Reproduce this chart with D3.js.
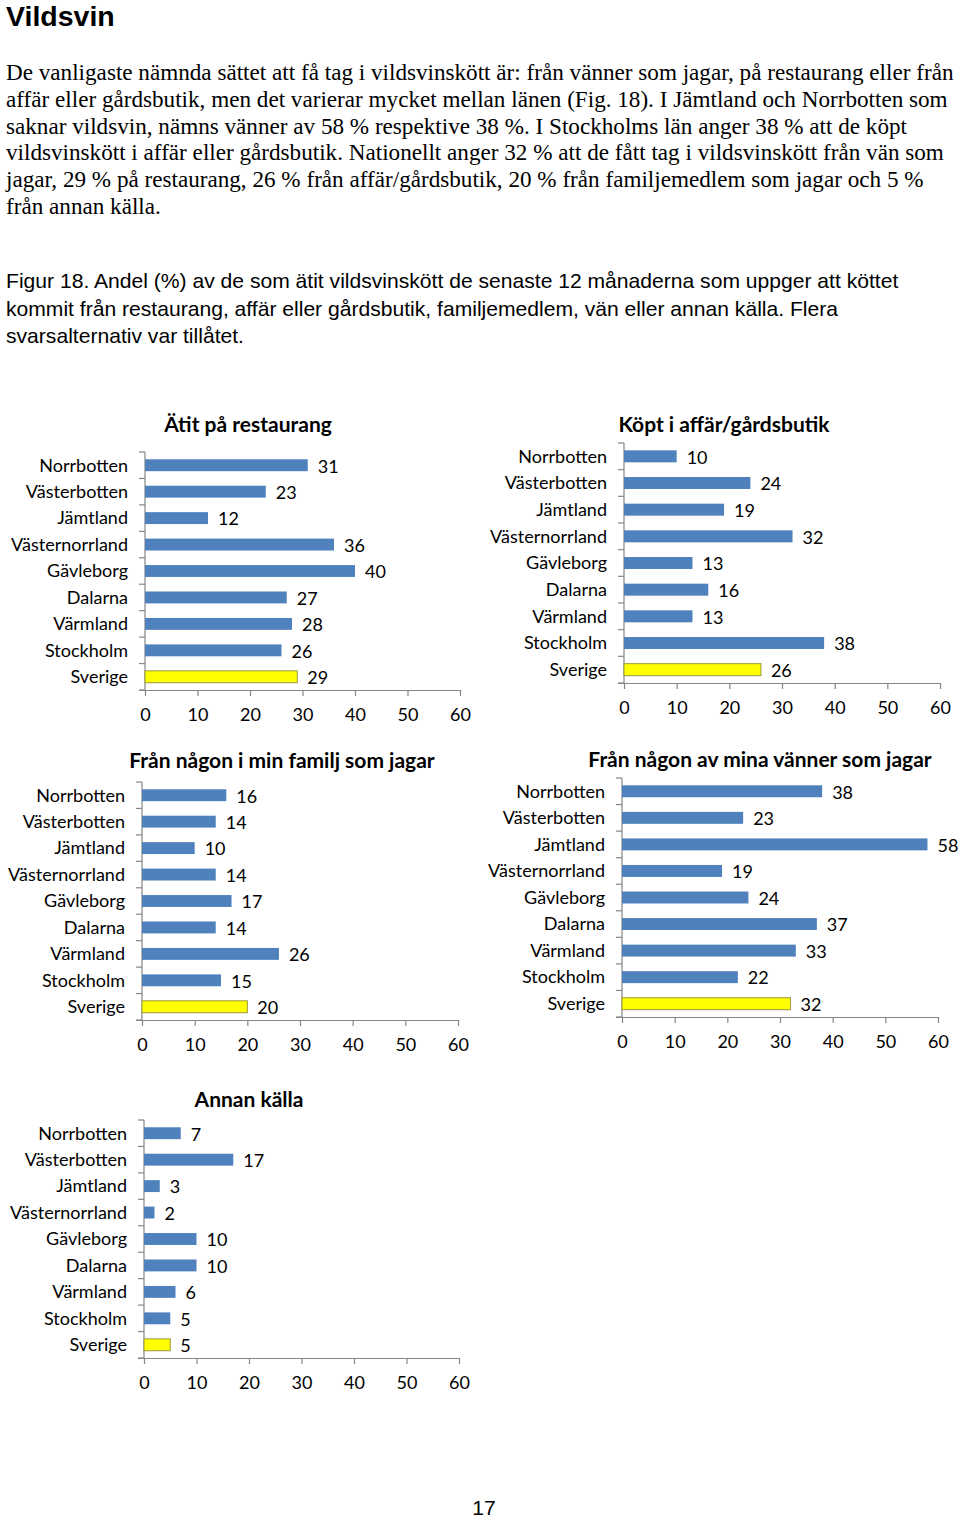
<!DOCTYPE html>
<html><head><meta charset="utf-8">
<script src="https://cdn.jsdelivr.net/npm/d3@7/dist/d3.min.js"></script>
<style>
html,body{margin:0;padding:0;background:#fff;}
svg{display:block;}
</style></head>
<body>
<svg id="c" width="960" height="1519"></svg>
<script>
// ---------- data ----------
const categories = ["Norrbotten","Västerbotten","Jämtland","Västernorrland","Gävleborg","Dalarna","Värmland","Stockholm","Sverige"];
const restaurang = [31,23,12,36,40,27,28,26,29];
const affar      = [10,24,19,32,13,16,13,38,26];
const familj     = [16,14,10,14,17,14,26,15,20];
const vanner     = [38,23,58,19,24,37,33,22,32];
const annan      = [7,17,3,2,10,10,6,5,5];
const titles = ["Ätit på restaurang","Köpt i affär/gårdsbutik","Från någon i min familj som jagar","Från någon av mina vänner som jagar","Annan källa"];
const xTicks = [0,10,20,30,40,50,60];

const heading = "Vildsvin";
const paragraph = [
 "De vanligaste nämnda sättet att få tag i vildsvinskött är: från vänner som jagar, på restaurang eller från",
 "affär eller gårdsbutik, men det varierar mycket mellan länen (Fig. 18). I Jämtland och Norrbotten som",
 "saknar vildsvin, nämns vänner av 58 % respektive 38 %. I Stockholms län anger 38 % att de köpt",
 "vildsvinskött i affär eller gårdsbutik. Nationellt anger 32 % att de fått tag i vildsvinskött från vän som",
 "jagar, 29 % på restaurang, 26 % från affär/gårdsbutik, 20 % från familjemedlem som jagar och 5 %",
 "från annan källa."
];
const caption = [
 "Figur 18. Andel (%) av de som ätit vildsvinskött de senaste 12 månaderna som uppger att köttet",
 "kommit från restaurang, affär eller gårdsbutik, familjemedlem, vän eller annan källa. Flera",
 "svarsalternativ var tillåtet."
];
const pageNumber = "17";

// ---------- layout ----------
const svg = d3.select("#c");
svg.append("rect").attr("width",960).attr("height",1519).attr("fill","#fff");

svg.append("text").attr("x",6).attr("y",26)
  .attr("font-family","Liberation Sans, Arial, sans-serif").attr("font-weight","bold")
  .attr("font-size",28.5).attr("fill","#000").text(heading);

const pg = svg.append("g").attr("font-family","Liberation Serif, Times New Roman, serif")
  .attr("font-size",23.15).attr("fill","#000");
paragraph.forEach((l,i)=>pg.append("text").attr("x",6).attr("y",80+i*26.8).text(l));

const cg = svg.append("g").attr("font-family","Liberation Sans, Arial, sans-serif")
  .attr("font-size",21.1).attr("fill","#000");
caption.forEach((l,i)=>cg.append("text").attr("x",6).attr("y",288+i*27.5).text(l));

svg.append("text").attr("x",484).attr("y",1515).attr("text-anchor","middle")
  .attr("font-family","Liberation Sans, Arial, sans-serif").attr("font-size",21).text(pageNumber);

const panels = [
  {values:restaurang, title:titles[0], x0:145, x1:460, top:452, bottom:690, tx:248, ty:432},
  {values:affar,      title:titles[1], x0:624, x1:940, top:443, bottom:683, tx:724, ty:432},
  {values:familj,     title:titles[2], x0:142, x1:458, top:782, bottom:1020, tx:282, ty:768},
  {values:vanner,     title:titles[3], x0:622, x1:938, top:778, bottom:1017, tx:760, ty:767},
  {values:annan,      title:titles[4], x0:144, x1:459, top:1120, bottom:1358, tx:249, ty:1107}
];

const FONT = "Lato, Open Sans, sans-serif";
const FS = 18;
const AX = "#868686";
const BLUE = "#4F81BD";
const YELLOW = "#FFFF00";

panels.forEach(p=>{
  const g = svg.append("g");
  const x = d3.scaleLinear().domain([0,60]).range([p.x0,p.x1]);
  const y = d3.scaleBand().domain(categories).range([p.top,p.bottom]).paddingInner(0.55).paddingOuter(0.275);
  const step = (p.bottom-p.top)/categories.length;

  // title
  g.append("text").attr("x",p.tx).attr("y",p.ty).attr("text-anchor","middle")
    .attr("font-family",FONT).attr("font-weight","bold").attr("font-size",21)
    .attr("fill","#000").text(p.title);

  // y axis line and ticks at band boundaries
  g.append("line").attr("x1",p.x0).attr("x2",p.x0).attr("y1",p.top).attr("y2",p.bottom)
    .attr("stroke",AX).attr("stroke-width",1.2);
  d3.range(categories.length+1).forEach(i=>{
    const yy = p.top + i*step;
    g.append("line").attr("x1",p.x0-6).attr("x2",p.x0).attr("y1",yy).attr("y2",yy)
      .attr("stroke",AX).attr("stroke-width",1.2);
  });

  // x axis
  const xa = g.append("g").attr("transform",`translate(0,${p.bottom})`)
    .call(d3.axisBottom(x).tickValues(xTicks).tickSize(6).tickSizeOuter(0).tickPadding(10));
  xa.select(".domain").attr("stroke",AX).attr("stroke-width",1.2).attr("d",`M${p.x0-6},0.5H${p.x1}`);
  xa.selectAll(".tick line").attr("stroke",AX).attr("stroke-width",1.2);
  xa.selectAll(".tick text").attr("font-family",FONT).attr("font-size",FS).attr("fill","#000")
    .attr("dy","0.85em");

  // category labels
  g.selectAll(".cat").data(categories).enter().append("text")
    .attr("x",p.x0-17).attr("y",d=>y(d)+y.bandwidth()/2).attr("dy","0.35em")
    .attr("text-anchor","end").attr("font-family",FONT).attr("font-size",FS).attr("fill","#000")
    .text(d=>d);

  // bars
  const data = categories.map((c,i)=>({c, v:p.values[i], last:i===categories.length-1}));
  g.selectAll(".bar").data(data).enter().append("rect")
    .attr("x",x(0)).attr("y",d=>y(d.c)).attr("width",d=>x(d.v)-x(0)).attr("height",y.bandwidth())
    .attr("fill",d=>d.last?YELLOW:BLUE)
    .attr("stroke",d=>d.last?"#9a9a3a":"none").attr("stroke-width",1);

  // value labels
  g.selectAll(".val").data(data).enter().append("text")
    .attr("x",d=>x(d.v)+10).attr("y",d=>y(d.c)+y.bandwidth()/2+1).attr("dy","0.35em")
    .attr("font-family",FONT).attr("font-size",FS).attr("fill","#000").text(d=>d.v);
});
</script>
</body></html>
